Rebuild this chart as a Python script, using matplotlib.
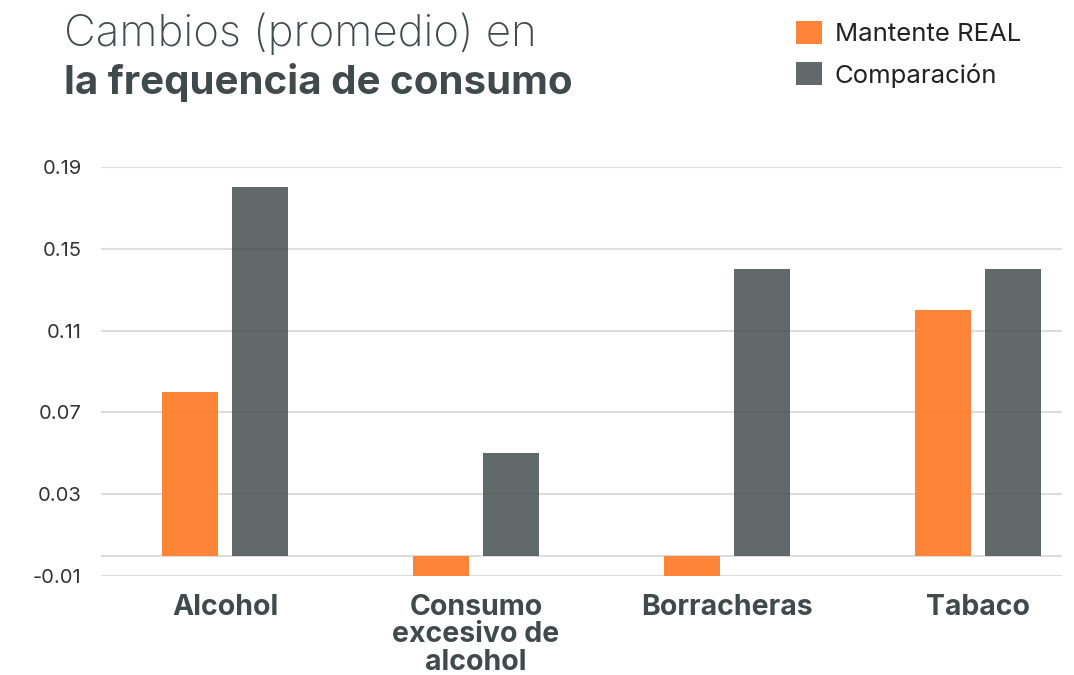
import numpy as np
import matplotlib
matplotlib.use('Agg')
import matplotlib.pyplot as plt

# datos
categorias = ['Alcohol', 'Consumo\nexcesivo de\nalcohol', 'Borracheras', 'Tabaco']
mantente_real = [0.08, -0.01, -0.01, 0.12]
comparacion = [0.18, 0.05, 0.14, 0.14]
yticks = [-0.01, 0.03, 0.07, 0.11, 0.15, 0.19]
ytick_labels = ['-0.01', '0.03', '0.07', '0.11', '0.15', '0.19']

plt.rcParams['font.family'] = ['Inter', 'DejaVu Sans']

col_naranja = '#fe7f2d'
col_gris = '#454f4f'
col_texto = '#414a4a'

fig = plt.figure(figsize=(10.74, 6.75), dpi=100)
ax = fig.add_axes([0.094, 0.1467, 0.895, 0.606])

x = np.arange(len(categorias))
w = 0.223
off = 0.141

for y in yticks + [0]:
    ax.axhline(y, color='#dddddd', lw=1.5, zorder=0)

ax.bar(x - off, mantente_real, w, color=col_naranja, alpha=0.95, zorder=2, label='Mantente REAL')
ax.bar(x + off, comparacion, w, color=col_gris, alpha=0.85, zorder=2, label='Comparación')

ax.set_xlim(-0.494, 3.335)
ax.set_ylim(-0.01, 0.19)
ax.set_yticks(yticks)
ax.set_yticklabels(ytick_labels, fontsize=14.5, color='#333333')
ax.set_xticks(x)
ax.set_xticklabels(categorias, fontsize=20.5, fontweight='bold', color=col_texto, linespacing=1.02, va='top')
ax.tick_params(axis='both', length=0)
ax.tick_params(axis='y', pad=14)
ax.tick_params(axis='x', pad=13)
for s in ax.spines.values():
    s.set_visible(False)

# titulo
fig.text(0.06, 0.932, 'Cambios (promedio) en', fontsize=31.5, fontweight='light', color=col_texto, va='baseline')
fig.text(0.06, 0.861, 'la frequencia de consumo', fontsize=29, fontweight='bold', color=col_texto, va='baseline')

# leyenda
fig.legend(loc='upper left', bbox_to_anchor=(0.72, 1.003), frameon=False, fontsize=18.5,
           handlelength=1.0, handleheight=1.0, handletextpad=0.5, labelspacing=0.62,
           labelcolor='#222222')

fig.savefig('out.png', dpi=100)
